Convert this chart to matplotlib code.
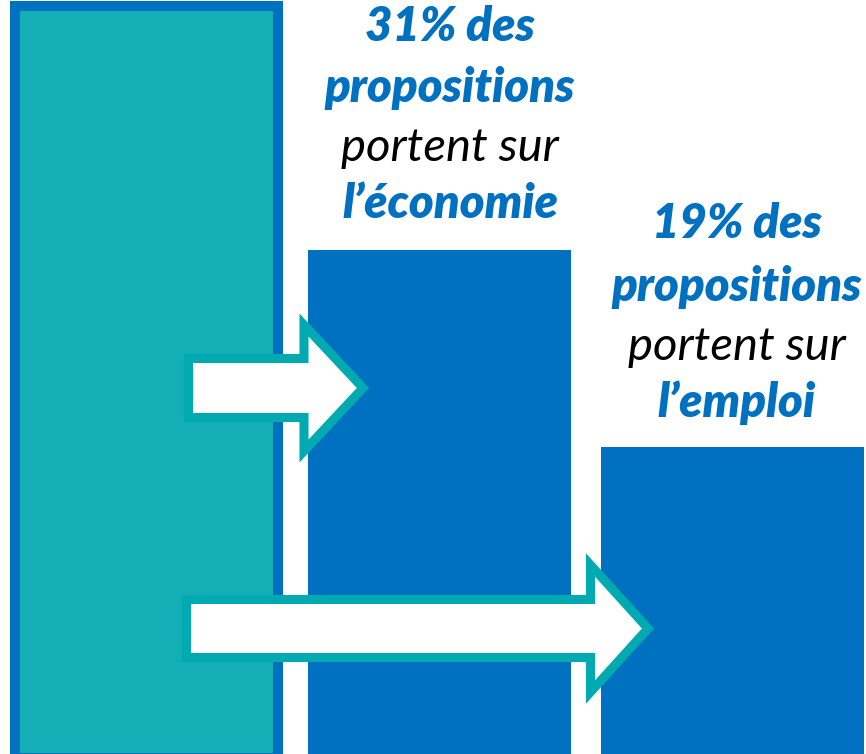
import matplotlib
matplotlib.use('Agg')
import matplotlib.pyplot as plt
from matplotlib.patches import Polygon

# share of proposals (%) - first bar is the total column, cut at the top
categories = ['total', 'économie', 'emploi']
values = [45.9, 31, 19]
bar_colors = ['#13AEB6', '#0070C0', '#0070C0']

labels = [
    ('31% des', 'propositions', 'portent sur', 'l\u2019économie'),
    ('19% des', 'propositions', 'portent sur', 'l\u2019emploi'),
]

BLUE = '#0070C0'
TEAL = '#00AAB0'
W, H = 866, 754

fig = plt.figure(figsize=(W / 100, H / 100), dpi=100)
ax = fig.add_axes([0, 0, 1, 1])
ax.set_xlim(-0.5, 2.456)
ax.set_ylim(0.25, H / 16.3)
ax.axis('off')

bars = ax.bar(range(len(values)), values, width=0.9, color=bar_colors)
bars[0].set_edgecolor(BLUE)
bars[0].set_linewidth(7.2)

# overlay in pixel coordinates for arrows and text
ov = fig.add_axes([0, 0, 1, 1])
ov.set_xlim(0, W)
ov.set_ylim(H, 0)
ov.axis('off')
ov.patch.set_alpha(0)


def arrow(x0, x_head, x_tip, y_mid, half_shaft, half_head):
    pts = [(x0, y_mid - half_shaft), (x_head, y_mid - half_shaft),
           (x_head, y_mid - half_head), (x_tip, y_mid),
           (x_head, y_mid + half_head), (x_head, y_mid + half_shaft),
           (x0, y_mid + half_shaft)]
    ov.add_patch(Polygon(pts, closed=True, facecolor='white', edgecolor=TEAL,
                         linewidth=6.5, joinstyle='miter'))


arrow(188.5, 304, 363, 388, 29.5, 63)
arrow(186.5, 590.5, 648, 628.5, 29, 63.5)

font = 'Lato'
size = 34
for (l1, l2, l3, l4), xc, ys in [(labels[0], 450, [27, 88, 148, 204]),
                                  (labels[1], 737, [224, 287, 347, 403])]:
    for txt, y, col, wt in [(l1, ys[0], BLUE, 'heavy'), (l2, ys[1], BLUE, 'heavy'),
                            (l3, ys[2], 'black', 'normal'), (l4, ys[3], BLUE, 'heavy')]:
        ov.text(xc, y, txt, ha='center', va='center', color=col, fontsize=size,
                fontweight=wt, fontstyle='italic', family=font)

fig.savefig('out.png', dpi=100)
